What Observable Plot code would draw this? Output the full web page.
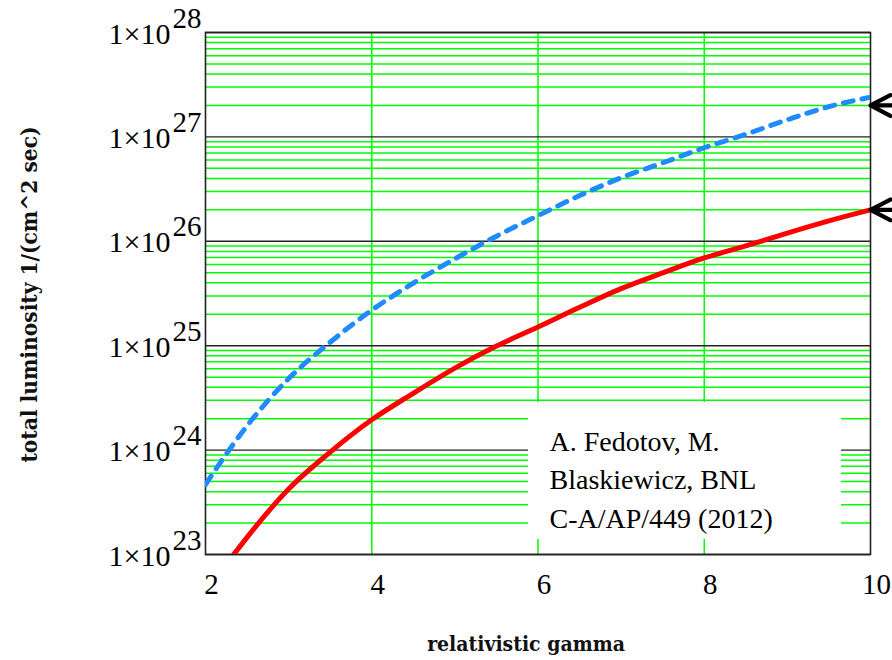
<!DOCTYPE html>
<html>
<head>
<meta charset="utf-8">
<script src="https://cdn.jsdelivr.net/npm/d3@7"></script>
<script src="https://cdn.jsdelivr.net/npm/@observablehq/plot@0.6"></script>
<style>
  html, body { margin: 0; padding: 0; background: #fff; overflow: hidden; }
  svg { overflow: hidden; display: block; }
</style>
</head>
<body>
<div id="chart"></div>
<script>
// ---- data ----
const gammaBlue = [2, 2.5, 3, 3.5, 4, 4.5, 5, 5.5, 6, 6.5, 7, 7.5, 8, 8.5, 9, 9.5, 10];
const lumBlue   = [4.68e23, 1.71e24, 4.84e24, 1.08e25, 2.19e25, 3.98e25, 6.79e25, 1.12e26, 1.76e26,
                   2.74e26, 4.06e26, 5.64e26, 7.87e26, 1.06e27, 1.46e27, 1.95e27, 2.40e27];
const gammaRed  = [2.3, 2.5, 3, 3.5, 4, 4.5, 5, 5.5, 6, 6.5, 7, 7.5, 8, 8.5, 9, 9.5, 10];
const lumRed    = [9.1e22, 1.46e23, 4.24e23, 9.57e23, 1.95e24, 3.50e24, 6.10e24, 9.91e24, 1.51e25,
                   2.33e25, 3.52e25, 4.98e25, 6.92e25, 9.04e25, 1.20e26, 1.57e26, 2.0e26];
const decades   = [1e23, 1e24, 1e25, 1e26, 1e27, 1e28];
const decadeExp = ["23", "24", "25", "26", "27", "28"];
const minorMult = [2, 3, 4, 5, 6, 7, 8, 9];
const xTicks    = [2, 4, 6, 8, 10];
const xGrid     = [4, 6, 8];
const arrowLum  = [2e27, 2e26];
const noteLines = ["A. Fedotov, M.", "Blaskiewicz, BNL", "C-A/AP/449 (2012)"];
const noteGamma = [5.886, 9.651];
const noteLum   = [1.39e23, 2.85e24];
const xLabel = "relativistic gamma";
const yLabel = "total luminosity 1/(cm^2 sec)";

// ---- derived tables ----
const blue = gammaBlue.map((g, i) => ({g, L: lumBlue[i]}));
const red  = gammaRed.map((g, i) => ({g, L: lumRed[i]}));
const minor = decades.slice(0, -1).flatMap(d => minorMult.map(m => m * d));
const expOf = new Map(decades.map((d, i) => [d, decadeExp[i]]));
const note = [{x1: noteGamma[0], x2: noteGamma[1], y1: noteLum[0], y2: noteLum[1], text: noteLines.join("\n")}];

const serif = "'Liberation Serif', 'Times New Roman', serif";
const labelFont = "'DejaVu Serif Condensed', 'DejaVu Serif', serif";
const green = "#00ff00";

const chart = Plot.plot({
  width: 892,
  height: 660,
  marginLeft: 205,
  marginRight: 22,
  marginTop: 32,
  marginBottom: 106,
  style: {fontFamily: serif, background: "white", color: "black"},
  x: {domain: [2, 10]},
  y: {type: "log", domain: [1e23, 1e28]},
  marks: [
    Plot.ruleY(minor, {stroke: green, strokeWidth: 1.5}),
    Plot.ruleX(xGrid, {stroke: green, strokeWidth: 1.5}),
    Plot.ruleY(decades, {stroke: "#222", strokeWidth: 1.4}),
    Plot.frame({stroke: "#222", strokeWidth: 1.6}),
    Plot.rect(note, {x1: "x1", x2: "x2", y1: "y1", y2: "y2", fill: "white"}),
    Plot.line(blue, {x: "g", y: "L", stroke: "#1e8cff", strokeWidth: 5, strokeDasharray: "10,9", curve: "monotone-x", clip: true}),
    Plot.line(red, {x: "g", y: "L", stroke: "#ff0000", strokeWidth: 5, curve: "monotone-x", clip: true}),
    Plot.text(note, {x: "x1", y: "y2", text: "text", textAnchor: "start", lineAnchor: "top",
      dx: 21, dy: 21, lineHeight: 1.375, fontSize: 28, fontFamily: serif, fill: "black"}),
    Plot.arrow(arrowLum, {x1: 11, x2: 10, y1: d => d, y2: d => d, stroke: "black",
      strokeWidth: 4.2, headLength: 8, headAngle: 55}),
    Plot.axisX(xTicks, {tickSize: 0, tickPadding: 39, lineAnchor: "bottom", dx: 6,
      fontSize: 29, fontFamily: serif, label: null, tickFormat: d => String(d)}),
    Plot.axisY(decades, {tickSize: 0, tickPadding: 0, textAnchor: "end", lineAnchor: "bottom",
      dx: -35, dy: 11, fontSize: 30, fontFamily: serif, label: null, tickFormat: () => "1×10"}),
    Plot.axisY(decades, {tickSize: 0, tickPadding: 0, textAnchor: "start", lineAnchor: "bottom",
      dx: -33, dy: -5, fontSize: 29, fontFamily: serif, label: null, tickFormat: d => expOf.get(d)}),
    Plot.text([xLabel], {frameAnchor: "bottom", textAnchor: "middle", lineAnchor: "bottom", dx: -12, dy: 96,
      fontSize: 21, fontWeight: "bold", fontFamily: labelFont, fill: "#111"}),
    Plot.text([yLabel], {frameAnchor: "left", textAnchor: "middle", rotate: -90, dx: -176, dy: 1,
      fontSize: 22.5, fontWeight: "bold", fontFamily: labelFont, fill: "#111"})
  ]
});
document.getElementById("chart").appendChild(chart);
</script>
</body>
</html>
